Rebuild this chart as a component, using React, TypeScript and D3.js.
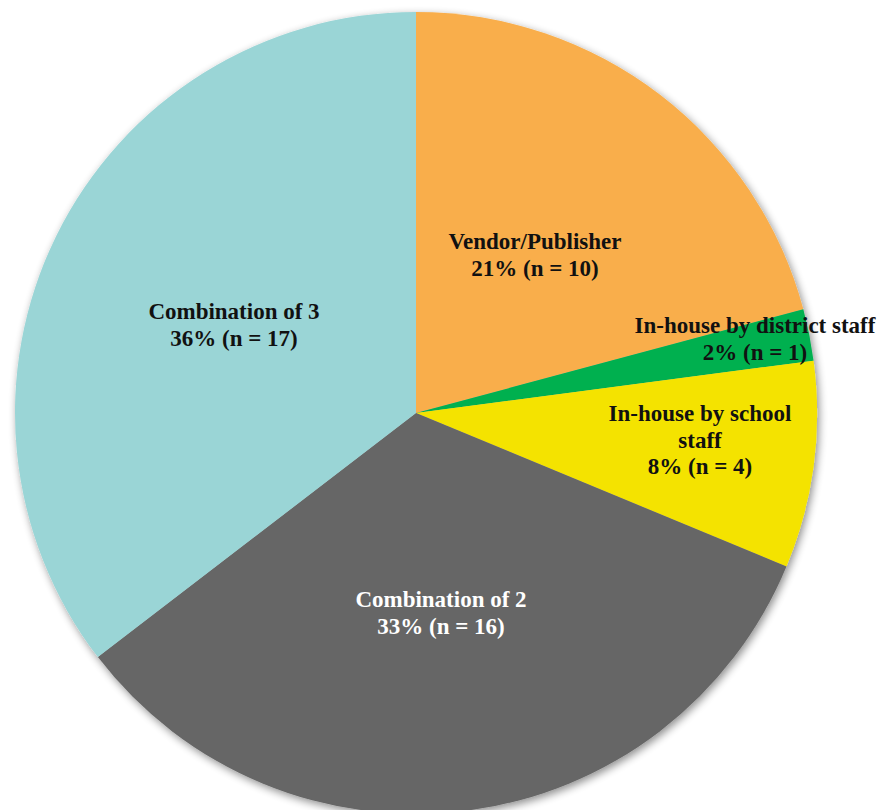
import React from "react";
import * as d3 from "d3";

const categories = [
  "Vendor/Publisher",
  "In-house by district staff",
  "In-house by school staff",
  "Combination of 2",
  "Combination of 3",
];
const counts = [10, 1, 4, 16, 17];
const percents = ["21%", "2%", "8%", "33%", "36%"];
const labelLines = [
  ["Vendor/Publisher"],
  ["In-house by district staff"],
  ["In-house by school", "staff"],
  ["Combination of 2"],
  ["Combination of 3"],
];
const colors = ["#F9AE4B", "#00B050", "#F4E300", "#666666", "#9AD5D6"];
const textColors = ["#111", "#111", "#111", "#fff", "#111"];
// label anchor positions expressed as (angle-centroid radius factor, offsets) handled below
const labelPos: [number, number][] = [
  [535, 249],
  [755, 333],
  [700, 421],
  [441, 607],
  [234, 319],
];

export default function App() {
  const W = 882, H = 810;
  const cx = 416, cy = 413, R = 401;
  const pie = d3.pie<number>().sort(null).value((d) => d).startAngle(0).endAngle(2 * Math.PI);
  const arcs = pie(counts);
  const arc = d3.arc<d3.PieArcDatum<number>>().innerRadius(0).outerRadius(R);
  const fs = 23;
  const lh = 26.5;
  return (
    <svg width={W} height={H} style={{ position: "absolute", left: 0, top: 0 }}>
      <defs>
        <filter id="sh" x="-10%" y="-10%" width="120%" height="120%">
          <feGaussianBlur in="SourceAlpha" stdDeviation="4" />
          <feOffset dx="2" dy="3" result="b" />
          <feComponentTransfer>
            <feFuncA type="linear" slope="0.45" />
          </feComponentTransfer>
          <feMerge>
            <feMergeNode />
            <feMergeNode in="SourceGraphic" />
          </feMerge>
        </filter>
      </defs>
      <rect width={W} height={H} fill="#fff" />
      <g transform={`translate(${cx},${cy})`} filter="url(#sh)">
        {arcs.map((a, i) => (
          <path key={categories[i]} d={arc(a) || ""} fill={colors[i]} />
        ))}
      </g>
      {labelLines.map((lines, i) => {
        const [x, y] = labelPos[i];
        const all = [...lines, `${percents[i]} (n = ${counts[i]})`];
        return (
          <text
            key={categories[i]}
            x={x}
            y={y}
            textAnchor="middle"
            fontFamily="'Liberation Serif', 'Times New Roman', serif"
            fontWeight="bold"
            fontSize={fs}
            fill={textColors[i]}
          >
            {all.map((t, j) => (
              <tspan key={j} x={x} dy={j === 0 ? 0 : lh}>
                {t}
              </tspan>
            ))}
          </text>
        );
      })}
    </svg>
  );
}
